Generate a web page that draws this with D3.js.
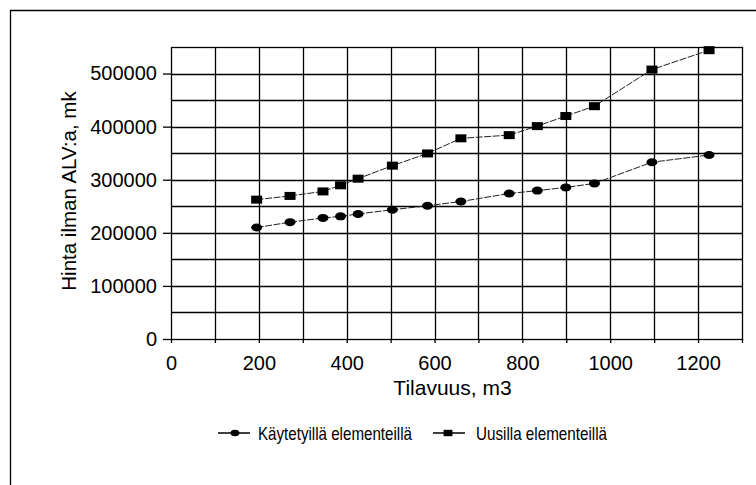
<!DOCTYPE html>
<html>
<head>
<meta charset="utf-8">
<script src="https://cdn.jsdelivr.net/npm/d3@7"></script>
<style>
  body { margin: 0; background: #fff; }
  svg { display: block; }
</style>
</head>
<body>
<svg id="chart" width="756" height="485"></svg>
<script>
// volume (m3)
const volumes = [195, 271, 346, 386, 426, 504, 584, 660, 770, 834, 899, 964, 1095, 1225];
// price without VAT, mk
const usedElements = [210000, 220000, 228000, 231000, 235500, 243500, 251000, 259000, 274000, 279500, 285500, 293000, 333000, 346500];
const newElements = [262500, 269500, 278000, 289500, 302000, 326500, 349500, 378000, 384000, 401000, 420000, 438500, 507500, 544000];
const xTicks = [0, 200, 400, 600, 800, 1000, 1200];
const yTicks = [0, 100000, 200000, 300000, 400000, 500000];
const seriesNames = ['Käytetyillä elementeillä', 'Uusilla elementeillä'];

const FONT = '"Liberation Sans", Arial, sans-serif';

const svg = d3.select('#chart');
const margin = { top: 47, left: 171, right: 14, bottom: 146 };
const width = 756 - margin.left - margin.right;
const height = 485 - margin.top - margin.bottom;

// outer frame, only the top and left edges show
svg.append('path')
  .attr('d', 'M10.5,485 V10.5 H756')
  .attr('fill', 'none')
  .attr('stroke', '#000')
  .attr('stroke-width', 1.3);

const x = d3.scaleLinear().domain([0, 1300]).range([0, width]);
const y = d3.scaleLinear().domain([0, 550000]).range([height, 0]);

const g = svg.append('g')
  .attr('transform', `translate(${margin.left}, ${margin.top})`);

// grid every 100 m3 and every 50000 mk
const grid = g.append('g');
grid.selectAll('line.v')
  .data(d3.range(100, 1300, 100))
  .join('line')
  .attr('class', 'v')
  .attr('x1', d => Math.round(x(d)) + 0.5)
  .attr('x2', d => Math.round(x(d)) + 0.5)
  .attr('y1', 0)
  .attr('y2', height)
  .attr('stroke', '#000')
  .attr('stroke-width', 1.3);
grid.selectAll('line.h')
  .data(d3.range(50000, 550000, 50000))
  .join('line')
  .attr('class', 'h')
  .attr('x1', 0)
  .attr('x2', width)
  .attr('y1', d => Math.round(y(d)) + 0.5)
  .attr('y2', d => Math.round(y(d)) + 0.5)
  .attr('stroke', '#000')
  .attr('stroke-width', 1.3);

g.append('rect')
  .attr('x', 0.5)
  .attr('y', 0.5)
  .attr('width', width)
  .attr('height', height)
  .attr('fill', 'none')
  .attr('stroke', '#000')
  .attr('stroke-width', 1.3);

// axes
const xAxis = g.append('g')
  .attr('transform', `translate(0, ${height})`)
  .call(d3.axisBottom(x).tickValues(d3.range(0, 1400, 100)).tickSize(4).tickPadding(13)
    .tickFormat(d => (xTicks.includes(d) ? d : '')));
xAxis.select('.domain').remove();
xAxis.selectAll('.tick line').attr('stroke', '#000').attr('stroke-width', 1.3);
xAxis.selectAll('.tick text')
  .attr('font-family', FONT)
  .attr('font-size', 20)
  .attr('fill', '#000');

const yAxis = g.append('g')
  .call(d3.axisLeft(y).tickValues(yTicks).tickSize(8).tickPadding(6)
    .tickFormat(d3.format('d')));
yAxis.select('.domain').remove();
yAxis.selectAll('.tick line').attr('stroke', '#000').attr('stroke-width', 1.3);
yAxis.selectAll('.tick text')
  .attr('font-family', FONT)
  .attr('font-size', 20)
  .attr('fill', '#000');

// axis titles
g.append('text')
  .attr('x', width / 2 - 4)
  .attr('y', height + 56)
  .attr('text-anchor', 'middle')
  .attr('font-family', FONT)
  .attr('font-size', 21)
  .text('Tilavuus, m3');

g.append('text')
  .attr('transform', `translate(${76 - margin.left}, ${191 - margin.top}) rotate(-90)`)
  .attr('text-anchor', 'middle')
  .attr('font-family', FONT)
  .attr('font-size', 20.5)
  .text('Hinta ilman ALV:a, mk');

// series
const series = [
  { name: seriesNames[0], values: usedElements, shape: 'circle' },
  { name: seriesNames[1], values: newElements, shape: 'square' },
];

const line = d3.line()
  .x(d => x(d[0]))
  .y(d => y(d[1]));

function drawMarker(sel, shape, k = 1) {
  if (shape === 'circle') {
    sel.append('ellipse').attr('rx', 5.5 * k).attr('ry', 4 * k).attr('fill', '#000');
  } else {
    sel.append('rect')
      .attr('x', -5.5 * k).attr('y', -4 * k)
      .attr('width', 11 * k).attr('height', 8 * k)
      .attr('fill', '#000');
  }
}

series.forEach(s => {
  const pts = volumes.map((v, i) => [v, s.values[i]]);
  g.append('path')
    .datum(pts)
    .attr('d', line)
    .attr('fill', 'none')
    .attr('stroke', '#222')
    .attr('stroke-width', 1)
    .attr('stroke-dasharray', '7,1.5');
  g.selectAll(null)
    .data(pts)
    .join('g')
    .attr('transform', d => `translate(${x(d[0])}, ${y(d[1])})`)
    .each(function markerEach() { drawMarker(d3.select(this), s.shape); });
});

// legend
const legendPos = [
  { lx: 218, mx: 235, tx: 258, len: 154 },
  { lx: 433, mx: 448, tx: 476, len: 131 },
];
series.forEach((s, i) => {
  const p = legendPos[i];
  const lg = svg.append('g').attr('transform', 'translate(0, 433)');
  lg.append('line')
    .attr('x1', p.lx).attr('x2', p.lx + 32).attr('y1', 0).attr('y2', 0)
    .attr('stroke', '#000').attr('stroke-width', 1.5);
  drawMarker(lg.append('g').attr('transform', `translate(${p.mx}, 0)`), s.shape, 0.8);
  lg.append('text')
    .attr('x', p.tx)
    .attr('y', 6.5)
    .attr('font-family', FONT)
    .attr('font-size', 18.5)
    .attr('textLength', p.len)
    .attr('lengthAdjust', 'spacingAndGlyphs')
    .text(s.name);
});
</script>
</body>
</html>
